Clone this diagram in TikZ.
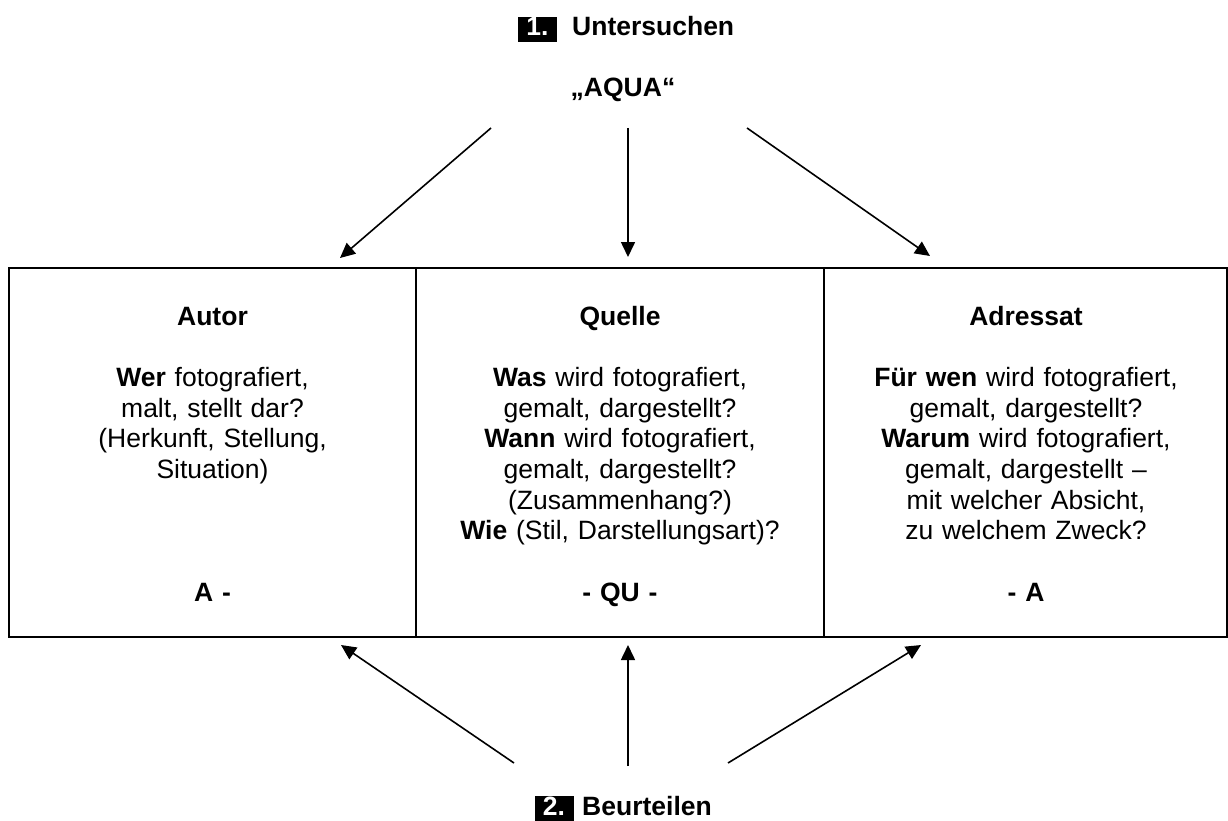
\documentclass[tikz,border=0pt]{standalone}
\usepackage{fontspec}
\setmainfont{Liberation Sans}
\usetikzlibrary{arrows.meta}
\begin{document}
\begin{tikzpicture}[x=1pt,y=-1pt,
  txt/.style={font=\fontsize{26.5}{30.67}\selectfont, inner sep=0pt},
  btxt/.style={font=\fontsize{26.5}{30.67}\selectfont\bfseries, inner sep=0pt},
  col/.style={txt, text width=400pt, align=center, anchor=north},
  cell/.style={draw, line width=1.8pt, minimum height=369pt, inner sep=0pt},
  arr/.style={line width=1.6pt, -{Triangle[length=15pt,width=14pt]}},
  numbox/.style={fill=black, text=white, font=\fontsize{26.5}{30.67}\selectfont\bfseries, text height=19pt, text depth=6pt, minimum width=39pt, inner sep=0pt, anchor=base}
]
\useasboundingbox (0,0) rectangle (1228,821);

% cells
\node[cell, minimum width=407pt] (cautor) at (212.5,452.5) {};
\node[cell, minimum width=408pt] (cquelle) at (620,452.5) {};
\node[cell, minimum width=403pt] (cadressat) at (1025.5,452.5) {};

% cell texts
\node[col] (tautor) at (212.5,305) {\rule{0pt}{20pt}\textbf{Autor}\\~\\\textbf{Wer} fotografiert,\\malt, stellt dar?\\(Herkunft, Stellung,\\Situation)\\~\\~\\~\\\textbf{A -}};
\node[col] (tquelle) at (620,305) {\rule{0pt}{20pt}\textbf{Quelle}\\~\\\textbf{Was} wird fotografiert,\\gemalt, dargestellt?\\\textbf{Wann} wird fotografiert,\\gemalt, dargestellt?\\(Zusammenhang?)\\\textbf{Wie} (Stil, Darstellungsart)?\\~\\\textbf{- QU -}};
\node[col] (tadressat) at (1026,305) {\rule{0pt}{20pt}\textbf{Adressat}\\~\\\textbf{Für wen} wird fotografiert,\\gemalt, dargestellt?\\\textbf{Warum} wird fotografiert,\\gemalt, dargestellt --\\mit welcher Absicht,\\zu welchem Zweck?\\~\\\textbf{- A}};

% headings
\node[numbox] (n1) at (537.5,36) {1.};
\node[btxt, anchor=base west] (unt) at (572,36) {Untersuchen};
\node[btxt, anchor=base] (aqua) at (623,97) {„AQUA“};
\node[numbox] (n2) at (554,815) {2.};
\node[btxt, anchor=base west] (beu) at (582,815) {Beurteilen};

% arrow end points
\coordinate (tl0) at (491,128); \coordinate (tl1) at (340,258);
\coordinate (tm0) at (628,128); \coordinate (tm1) at (628,257);
\coordinate (tr0) at (747,128); \coordinate (tr1) at (930,256);
\coordinate (bl0) at (514,763); \coordinate (bl1) at (341,645);
\coordinate (bm0) at (628,766); \coordinate (bm1) at (628,645);
\coordinate (br0) at (728,763); \coordinate (br1) at (921,645);

\draw[arr] (tl0) -- (tl1);
\draw[arr] (tm0) -- (tm1);
\draw[arr] (tr0) -- (tr1);
\draw[arr] (bl0) -- (bl1);
\draw[arr] (bm0) -- (bm1);
\draw[arr] (br0) -- (br1);
\end{tikzpicture}
\end{document}
